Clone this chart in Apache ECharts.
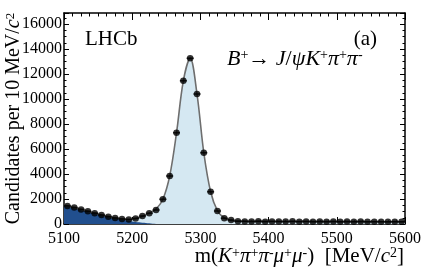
<!DOCTYPE html>
<html>
<head>
<meta charset="utf-8">
<script src="https://cdn.jsdelivr.net/npm/echarts@6/dist/echarts.min.js"></script>
<style>html,body{margin:0;padding:0;background:#fff}#c{width:427px;height:267px}</style>
</head>
<body>
<div id="c"></div>
<script>
// Bin centres (MeV/c^2) and candidate counts per 10 MeV/c^2
const massBins = [5105,5115,5125,5135,5145,5155,5165,5175,5185,5195,
  5205,5215,5225,5235,5245,5255,5265,5275,5285,5295,
  5305,5315,5325,5335,5345,5355,5365,5375,5385,5395,
  5405,5415,5425,5435,5445,5455,5465,5475,5485,5495,
  5505,5515,5525,5535,5545,5555,5565,5575,5585,5595];
const candidates = [1450,1320,1170,1020,870,720,590,480,400,360,
  450,640,860,1120,1980,3840,7300,11460,13260,10400,
  5700,2580,1040,460,320,220,210,200,220,190,
  210,200,195,215,190,205,185,200,190,205,
  180,195,185,200,180,190,185,175,190,180];

// Total fit curve
const fitMass = [5100,5105,5115,5125,5135,5145,5155,5165,5175,5185,5195,
  5205,5215,5225,5235,5245,5255,5265,5275,5285,5295,
  5305,5315,5325,5335,5345,5355,5365,5375,5385,5395,
  5405,5415,5425,5435,5445,5455,5465,5475,5485,5495,
  5505,5515,5525,5535,5545,5555,5565,5575,5585,5595,5600];
const fitTotal = [1520,1450,1310,1165,1020,870,725,590,480,400,360,
  430,620,870,1200,1980,3850,7300,11450,13250,10400,
  5700,2580,1060,480,290,230,215,212,210,207,
  205,203,201,199,197,195,194,193,192,191,
  190,189,188,187,186,185,184,183,182,182,181];

// Partially reconstructed background component
const bkgMass = [5100,5110,5120,5130,5140,5150,5160,5170,5180,5190,5200,5210,5220,5230,5240,5600];
const bkgValues = [1480,1340,1190,1040,900,760,630,510,400,300,210,135,75,30,0,0];

const xTicks = [5100,5200,5300,5400,5500,5600];
const yTicks = [0,2000,4000,6000,8000,10000,12000,14000,16000];

const serif = 'Liberation Serif';
const mkRich = (fs, ss) => ({
  n: {fontFamily: serif, fontSize: fs, color: '#000'},
  i: {fontFamily: serif, fontSize: fs, fontStyle: 'italic', color: '#000'},
  sup: {fontFamily: serif, fontSize: ss, verticalAlign: 'top', lineHeight: ss, color: '#000'}
});
const richX = mkRich(21, 14);
const richY = mkRich(20, 13);
const richD = mkRich(22, 14);

const chart = echarts.init(document.getElementById('c'), null, {renderer: 'canvas'});
const frameAxis = {
  axisLine: {show: true, onZero: false, lineStyle: {color: '#000', width: 1.5}},
  splitLine: {show: false}
};
const plain = v => String(v);
chart.setOption({
  animation: false,
  backgroundColor: '#fff',
  grid: {left: 64, right: 22, top: 13, bottom: 43, containLabel: false, outerBoundsMode: 'none'},
  xAxis: [
    Object.assign({}, frameAxis, {
      type: 'value', min: xTicks[0], max: xTicks[xTicks.length-1], interval: 100, position: 'bottom',
      axisTick: {show: true, inside: true, length: 7, lineStyle: {color: '#000', width: 1}},
      minorTick: {show: true, splitNumber: 8, length: 3.5, lineStyle: {color: '#000', width: 1}},
      axisLabel: {color: '#000', fontFamily: serif, fontSize: 16, margin: 7, formatter: plain},
      name: '{n|m(}{i|K}{sup|+}{i|π}{sup|+}{i|π}{sup|-}{i|μ}{sup|+}{i|μ}{sup|-}{n|)  [MeV/}{i|c}{sup|2}{n|]}',
      nameLocation: 'end', nameGap: -1, nameMoveOverlap: false,
      nameTextStyle: {align: 'right', verticalAlign: 'top', padding: [22, 0, 0, 0], rich: richX}
    }),
    Object.assign({}, frameAxis, {
      type: 'value', min: xTicks[0], max: xTicks[xTicks.length-1], interval: 100, position: 'top',
      axisTick: {show: true, inside: true, length: 7, lineStyle: {color: '#000', width: 1}},
      minorTick: {show: true, splitNumber: 8, length: 3.5, lineStyle: {color: '#000', width: 1}},
      axisLabel: {show: false}
    })
  ],
  yAxis: [
    Object.assign({}, frameAxis, {
      type: 'value', min: 0, max: 16880, interval: 2000, position: 'left',
      axisTick: {show: true, inside: true, length: 5, lineStyle: {color: '#000', width: 1}},
      minorTick: {show: true, splitNumber: 4, length: 2.5, lineStyle: {color: '#000', width: 1}},
      axisLabel: {color: '#000', fontFamily: serif, fontSize: 16, margin: 2, showMaxLabel: false, formatter: plain},
      name: '{n|Candidates per 10 MeV/}{i|c}{sup|2}',
      nameLocation: 'middle', nameRotate: 90, nameGap: 40, nameMoveOverlap: false,
      nameTextStyle: {rich: richY}
    }),
    Object.assign({}, frameAxis, {
      type: 'value', min: 0, max: 16880, interval: 2000, position: 'right',
      axisTick: {show: true, inside: true, length: 5, lineStyle: {color: '#000', width: 1}},
      minorTick: {show: true, splitNumber: 4, length: 2.5, lineStyle: {color: '#000', width: 1}},
      axisLabel: {show: false}
    })
  ],
  series: [
    {
      type: 'line', xAxisIndex: 0, yAxisIndex: 0, smooth: 0.35, showSymbol: false, z: 2,
      data: fitMass.map((m, i) => [m, fitTotal[i]]),
      lineStyle: {width: 0}, areaStyle: {color: '#d5e8f2', opacity: 1}
    },
    {
      type: 'line', xAxisIndex: 0, yAxisIndex: 0, smooth: 0.3, showSymbol: false, z: 3,
      data: bkgMass.map((m, i) => [m, bkgValues[i]]),
      lineStyle: {width: 0}, areaStyle: {color: '#214f8e', opacity: 1}
    },
    {
      type: 'line', xAxisIndex: 0, yAxisIndex: 0, smooth: 0.35, showSymbol: false, z: 4,
      data: fitMass.map((m, i) => [m, fitTotal[i]]),
      lineStyle: {color: '#6e6e6e', width: 1.6}
    },
    {
      type: 'scatter', xAxisIndex: 0, yAxisIndex: 0, z: 5, symbol: 'rect', symbolSize: [7, 1.6],
      itemStyle: {color: '#000'},
      data: massBins.map((m, i) => [m, candidates[i]])
    },
    {
      type: 'scatter', xAxisIndex: 0, yAxisIndex: 0, z: 6, symbol: 'circle', symbolSize: 6.5,
      itemStyle: {color: '#000'},
      data: massBins.map((m, i) => [m, candidates[i]])
    }
  ],
  graphic: [
    {type: 'text', left: 85, top: 29, style: {text: 'LHCb', fontFamily: serif, fontSize: 21, fill: '#000'}},
    {type: 'text', right: 50, top: 29, style: {text: '(a)', fontFamily: serif, fontSize: 21, fill: '#000'}},
    {type: 'text', left: 227, top: 48, style: {
      text: '{i|B}{sup|+}{n|→ }{i|J}{n|/}{i|ψK}{sup|+}{i|π}{sup|+}{i|π}{sup|-}',
      rich: richD
    }}
  ]
});
</script>
</body>
</html>
